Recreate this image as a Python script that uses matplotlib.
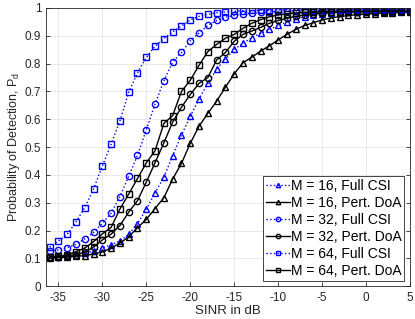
import numpy as np
import matplotlib
matplotlib.use("Agg")
import matplotlib.pyplot as plt
from matplotlib.ticker import FuncFormatter

plt.rcParams["font.family"] = ["Liberation Sans", "DejaVu Sans"]
plt.rcParams["axes.unicode_minus"] = False

# --------------------------------------------
# Data
# --------------------------------------------
sinr_db = list(range(-36, 6))

m16_full = [0.105, 0.106, 0.108, 0.112, 0.118, 0.126, 0.138, 0.148, 0.163, 0.186,
            0.225, 0.276, 0.336, 0.391, 0.469, 0.543, 0.610, 0.673, 0.729, 0.780,
            0.817, 0.851, 0.873, 0.893, 0.909, 0.923, 0.937, 0.950, 0.960, 0.968,
            0.974, 0.978, 0.981, 0.983, 0.984, 0.985, 0.986, 0.986, 0.987, 0.987,
            0.988, 0.988]
m16_pert = [0.102, 0.103, 0.105, 0.107, 0.110, 0.115, 0.124, 0.136, 0.155, 0.177,
            0.210, 0.240, 0.279, 0.318, 0.385, 0.441, 0.513, 0.575, 0.621, 0.665,
            0.715, 0.763, 0.803, 0.823, 0.845, 0.864, 0.885, 0.905, 0.923, 0.937,
            0.947, 0.957, 0.964, 0.969, 0.973, 0.976, 0.978, 0.980, 0.982, 0.983,
            0.984, 0.985]
m32_full = [0.128, 0.130, 0.138, 0.150, 0.170, 0.193, 0.226, 0.262, 0.322, 0.395,
            0.470, 0.562, 0.655, 0.738, 0.805, 0.840, 0.882, 0.910, 0.937, 0.955,
            0.966, 0.973, 0.978, 0.981, 0.984, 0.986, 0.988, 0.989, 0.990, 0.990,
            0.991, 0.991, 0.992, 0.992, 0.992, 0.992, 0.993, 0.993, 0.993, 0.993,
            0.993, 0.993]
m32_pert = [0.103, 0.105, 0.108, 0.113, 0.122, 0.140, 0.166, 0.187, 0.218, 0.266,
            0.307, 0.374, 0.444, 0.515, 0.590, 0.643, 0.689, 0.729, 0.750, 0.813,
            0.840, 0.880, 0.905, 0.917, 0.930, 0.945, 0.955, 0.963, 0.970, 0.975,
            0.979, 0.982, 0.984, 0.985, 0.986, 0.986, 0.987, 0.987, 0.987, 0.988,
            0.988, 0.988]
m64_full = [0.140, 0.162, 0.186, 0.231, 0.282, 0.349, 0.432, 0.510, 0.594, 0.697,
            0.767, 0.822, 0.863, 0.890, 0.914, 0.935, 0.957, 0.970, 0.977, 0.983,
            0.986, 0.988, 0.990, 0.991, 0.992, 0.993, 0.993, 0.994, 0.994, 0.994,
            0.994, 0.995, 0.995, 0.995, 0.995, 0.995, 0.995, 0.995, 0.995, 0.995,
            0.995, 0.995]
m64_pert = [0.105, 0.107, 0.112, 0.124, 0.137, 0.160, 0.188, 0.211, 0.277, 0.331,
            0.387, 0.443, 0.487, 0.585, 0.613, 0.700, 0.740, 0.794, 0.843, 0.869,
            0.891, 0.905, 0.927, 0.945, 0.958, 0.968, 0.975, 0.979, 0.982, 0.984,
            0.985, 0.986, 0.987, 0.987, 0.988, 0.988, 0.988, 0.989, 0.989, 0.989,
            0.989, 0.989]

series = [
    ("M = 16, Full CSI", m16_full, "b", ":", "^"),
    ("M = 16, Pert. DoA", m16_pert, "k", "-", "^"),
    ("M = 32, Full CSI", m32_full, "b", ":", "o"),
    ("M = 32, Pert. DoA", m32_pert, "k", "-", "o"),
    ("M = 64, Full CSI", m64_full, "b", ":", "s"),
    ("M = 64, Pert. DoA", m64_pert, "k", "-", "s"),
]

# --------------------------------------------
# Plot
# --------------------------------------------
fig = plt.figure(figsize=(4.15, 3.19), dpi=100)
ax = fig.add_axes([0.111, 0.103, 0.877, 0.872])

for label, vals, col, ls, mk in series:
    ax.plot(sinr_db, vals, color=col, linestyle=ls, linewidth=1.0,
            marker=mk, markersize=4.5, markerfacecolor="none",
            markeredgecolor=col, markeredgewidth=1.0, label=label)

ax.set_xlim(-36.4, 5)
ax.set_ylim(0, 1)
ax.set_xticks(range(-35, 6, 5))
ax.set_yticks(np.arange(0, 1.01, 0.1))
ax.yaxis.set_major_formatter(FuncFormatter(lambda v, p: f"{v:g}"))

ax.grid(True, color="#e6e6e6", linewidth=0.6)
ax.set_axisbelow(True)
ax.tick_params(direction="in", length=3, width=0.6, labelsize=8.5,
               colors="#262626", top=False, right=True)
ax.tick_params(axis="x", pad=4)
for sp in ax.spines.values():
    sp.set_color("#262626")
    sp.set_linewidth(0.6)

ax.set_xlabel("SINR in dB", fontsize=9.5, color="#262626", labelpad=1)
ax.set_ylabel("Probability of Detection, P$_\\mathregular{d}$", fontsize=9,
              color="#262626", labelpad=2)

leg = ax.legend(loc="lower right", fontsize=10, fancybox=False, framealpha=1,
                edgecolor="#262626", handlelength=1.7, handletextpad=0.1,
                labelspacing=0.22, borderpad=0.2, borderaxespad=0.4,
                markerscale=0.7)
leg.get_frame().set_linewidth(0.6)

fig.savefig("out.png", dpi=100)
